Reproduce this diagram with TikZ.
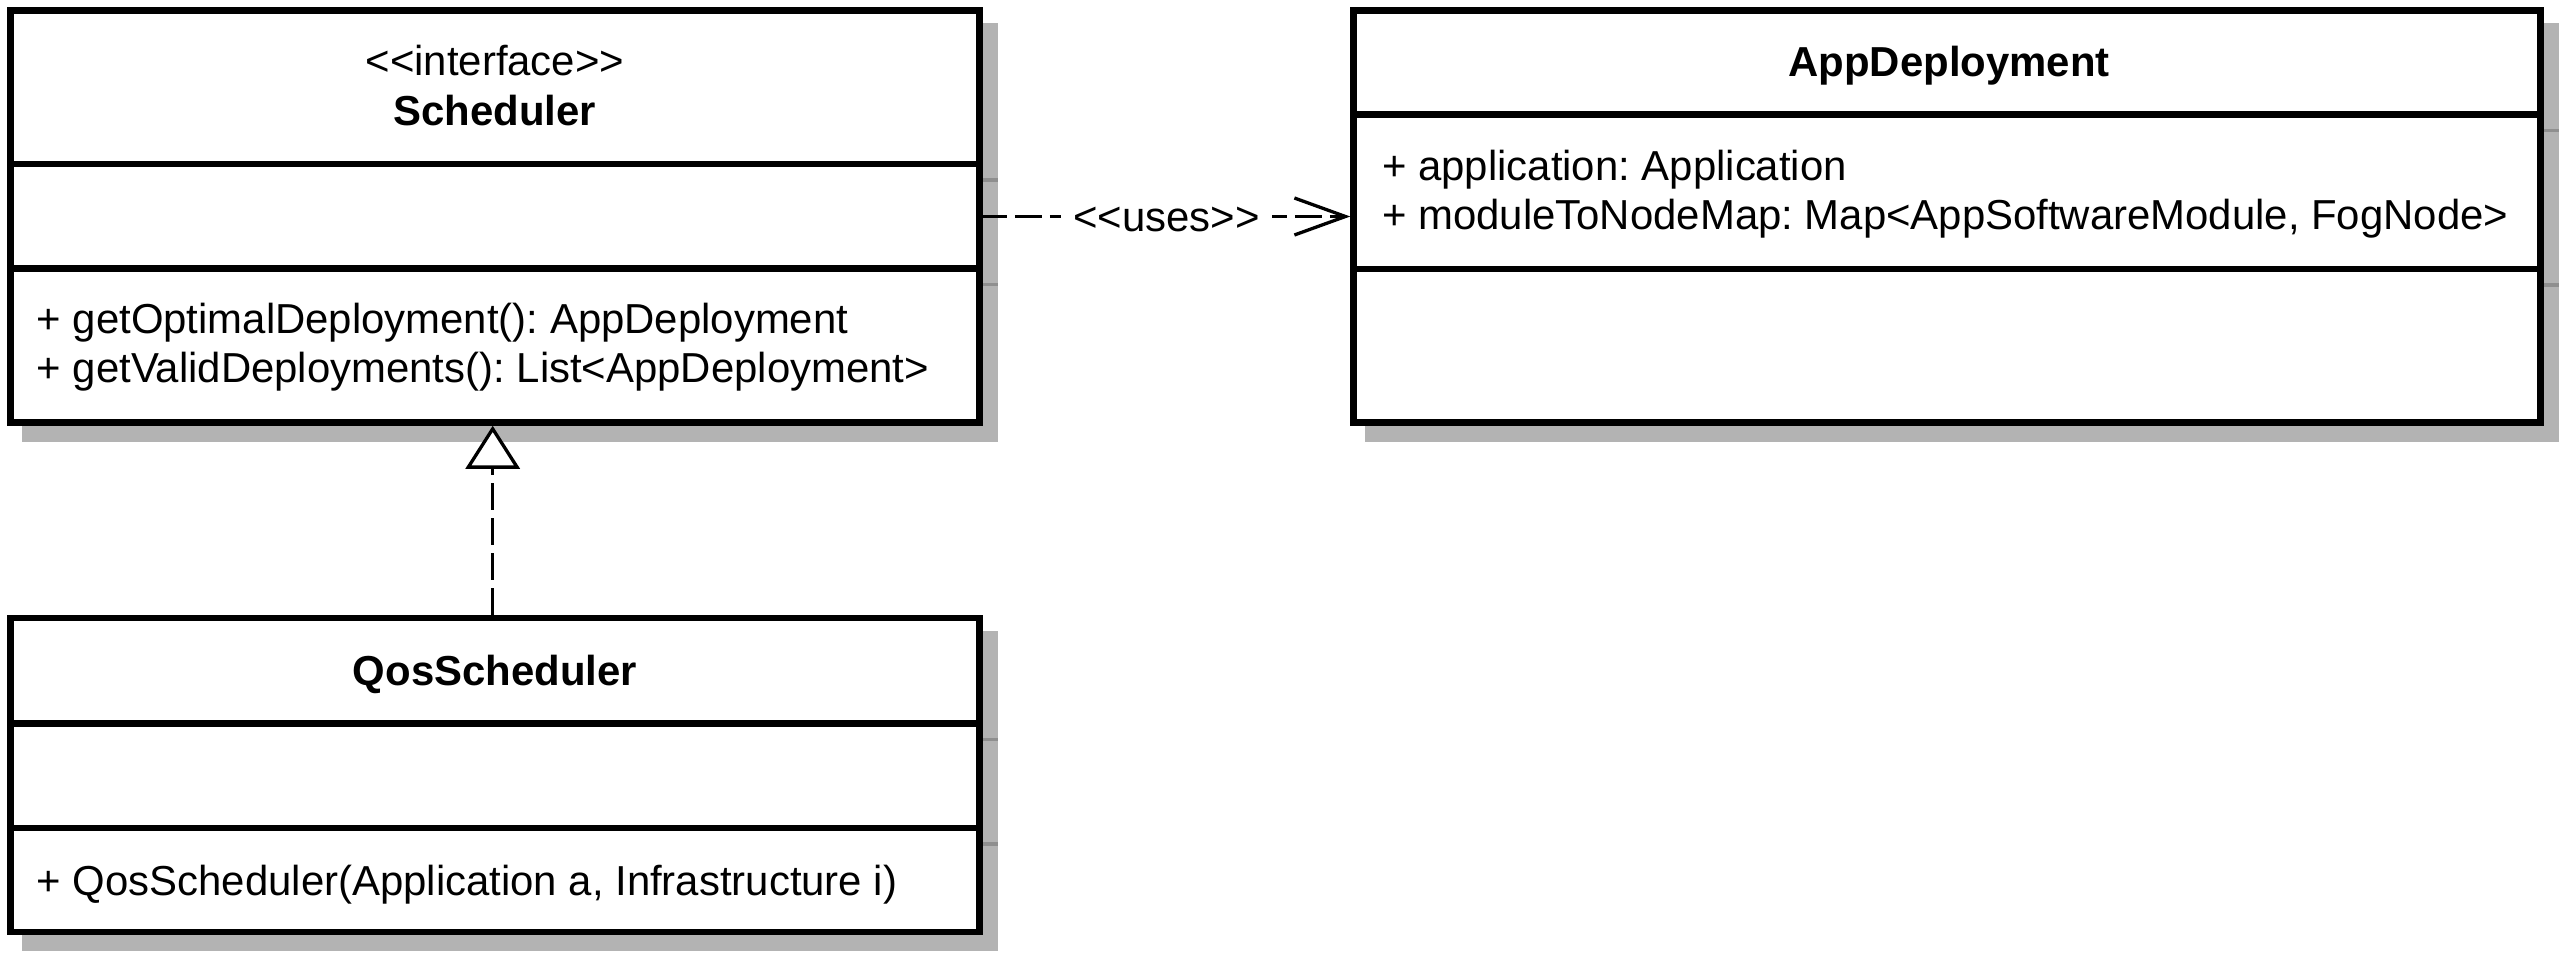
\documentclass[tikz,border=0pt]{standalone}
\usepackage{fontspec}
\setmainfont{Liberation Sans}
\usetikzlibrary{arrows.meta,backgrounds}
\newcommand\LLt{<\kern0pt<}
\newcommand\GGt{>\kern0pt>}
\definecolor{shadowgray}{HTML}{B3B3B3}
\definecolor{shadowline}{HTML}{8F8F8F}
\frenchspacing
\begin{document}
\begin{tikzpicture}[x=1pt,y=-1pt,
  classbox/.style={draw=black, fill=white, line width=6.5pt, inner sep=0pt},
  divider/.style={draw=black, line width=6.5pt},
  shadowdiv/.style={draw=shadowline, line width=3.3pt},
  txt/.style={inner sep=0pt, font=\fontsize{41.9}{48}\selectfont},
  stereo/.style={txt, anchor=base},
  ttl/.style={txt, font=\fontsize{41.9}{48}\selectfont\bfseries, anchor=base},
  member/.style={txt, anchor=base west},
  conn/.style={draw=black, line width=3.3pt, dash pattern=on 27pt off 8pt},
  connlabel/.style={txt, fill=white, inner xsep=12pt, inner ysep=2pt, anchor=base, yshift=-15pt},
]
\useasboundingbox (0,0) rectangle (2563,955);

% class boxes
\node[classbox, minimum width=969.2pt, minimum height=412pt] (sched) at (494.9,216.5) {};
\node[classbox, minimum width=1187pt, minimum height=412pt] (app) at (1947,216.5) {};
\node[classbox, minimum width=969.2pt, minimum height=314pt] (qos) at (494.9,775) {};

% shadows
\begin{scope}[on background layer]
  \fill[white] (0,0) rectangle (2563,955);
  \fill[shadowgray] ([shift={(15,16)}]sched.north west) rectangle ([shift={(15,16)}]sched.south east);
  \fill[shadowgray] ([shift={(15,16)}]app.north west) rectangle ([shift={(15,16)}]app.south east);
  \fill[shadowgray] ([shift={(15,16)}]qos.north west) rectangle ([shift={(15,16)}]qos.south east);
  \draw[shadowdiv] (22,180) -- (998,180);
  \draw[shadowdiv] (22,284.5) -- (998,284.5);
  \draw[shadowdiv] (1365,130.5) -- (2559,130.5);
  \draw[shadowdiv] (1365,285) -- (2559,285);
  \draw[shadowdiv] (22,739.5) -- (998,739.5);
  \draw[shadowdiv] (22,844) -- (998,844);
\end{scope}

% compartment dividers
\draw[divider] (7,164) -- (982.8,164);
\draw[divider] (7,268.5) -- (982.8,268.5);
\draw[divider] (1350.2,114.5) -- (2543.8,114.5);
\draw[divider] (1350.2,269) -- (2543.8,269);
\draw[divider] (7,723.5) -- (982.8,723.5);
\draw[divider] (7,828) -- (982.8,828);

% texts
\node[stereo] (schedst) at (494.9,76) {\LLt interface\GGt};
\node[ttl] (schedname) at (494.9,125) {Scheduler};
\node[member] (sm1) at (36.5,333) {+ getOptimalDeployment(): AppDeployment};
\node[member] (sm2) at (36.5,382) {+ getValidDeployments(): List<AppDeployment>};

\node[ttl] (appname) at (1949,77) {AppDeployment};
\node[member] (aa1) at (1382,180) {+ application: Application};
\node[member] (aa2) at (1382,229.5) {+ moduleToNodeMap: Map<AppSoftwareModule, FogNode>};

\node[ttl] (qosname) at (494.9,685) {QosScheduler};
\node[member] (qm1) at (36.5,895) {+ QosScheduler(Application a, Infrastructure i)};

% connectors
\draw[conn, dash phase=3pt, -{Straight Barb[length=51pt,width=37pt]}] (sched.east) -- node[connlabel] (uses) {\LLt uses\GGt} (app.west);
\draw[conn, -{Triangle[length=43pt,width=54pt,fill=white]}] ([xshift=-2.2pt]qos.north) -- ([xshift=-2.2pt]sched.south);
\end{tikzpicture}
\end{document}
